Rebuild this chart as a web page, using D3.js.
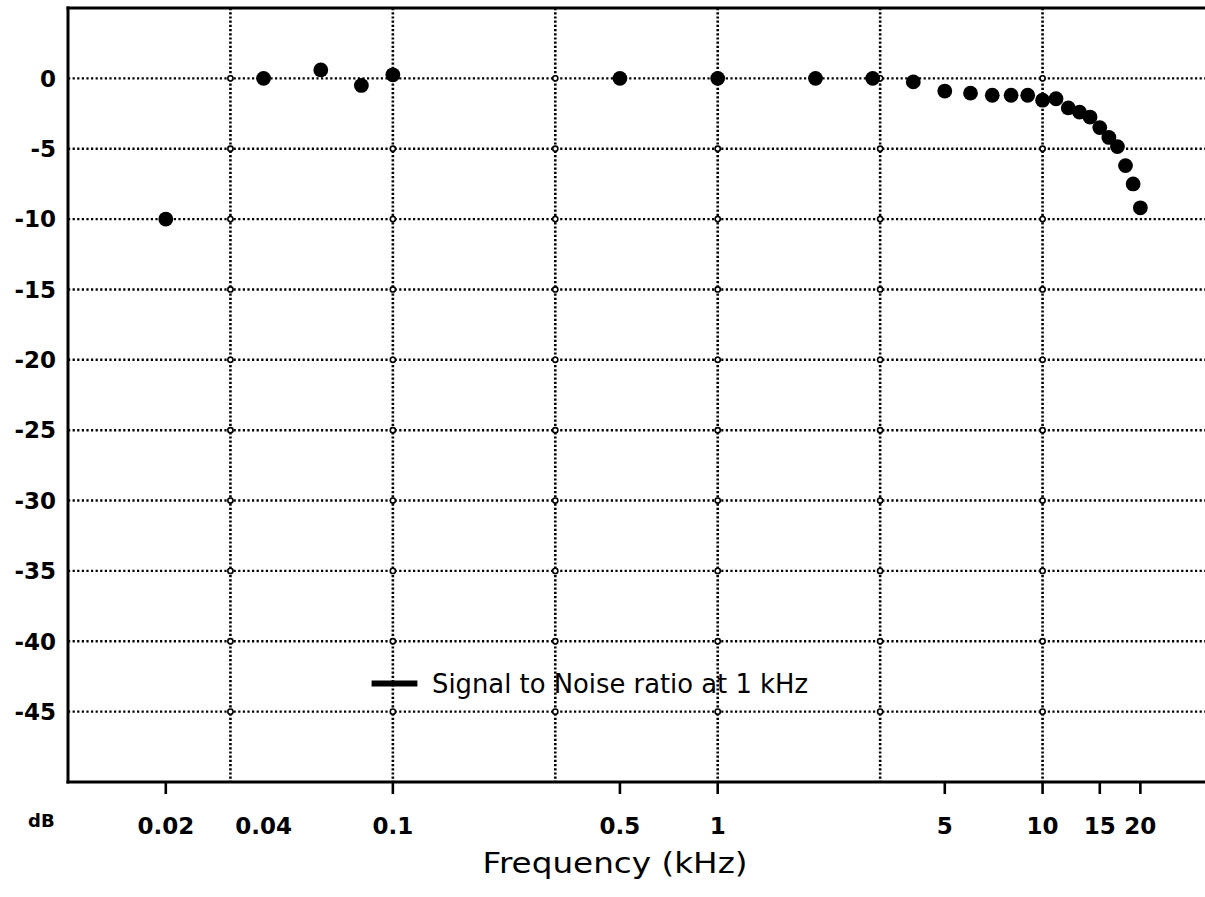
<!DOCTYPE html>
<html>
<head>
<meta charset="utf-8">
<script src="https://cdn.jsdelivr.net/npm/d3@7"></script>
<style>
  html, body { margin: 0; padding: 0; background: #fff; }
  svg { display: block; }
</style>
</head>
<body>
<svg id="chart" width="1205" height="897"></svg>
<script>
// Frequency response: measured level (dB) versus frequency (kHz)
const freqKHz = [0.02, 0.04, 0.06, 0.08, 0.1, 0.5, 1, 2, 3, 4, 5, 6, 7, 8, 9,
                 10, 11, 12, 13, 14, 15, 16, 17, 18, 19, 20];
const levelDb = [-10, 0, 0.6, -0.5, 0.25, 0, 0, 0, 0, -0.25, -0.9, -1.05, -1.2, -1.2, -1.2,
                 -1.55, -1.45, -2.1, -2.4, -2.75, -3.5, -4.2, -4.85, -6.2, -7.5, -9.2];

// Axis annotations
const xTickMarks = [0.02, 0.1, 0.5, 1, 5, 10, 15, 20];
const xTickLabels = ["0.02", "0.04", "0.1", "0.5", "1", "5", "10", "15", "20"];
const xGrid = [Math.pow(10, -1.5), 0.1, Math.pow(10, -0.5), 1, Math.pow(10, 0.5), 10];
const yTicks = [0, -5, -10, -15, -20, -25, -30, -35, -40, -45];
const legendLabel = "Signal to Noise ratio at 1 kHz";
const legendLevel = -43; // legend row sits between the -40 and -45 lines
const legendFreq = [0.086, 0.119];

const svg = d3.select("#chart");
const plotLeft = 68, plotRight = 1205, plotTop = 8, plotBottom = 782;

const x = d3.scaleLog().domain([0.01, Math.pow(10, 1.5)]).range([plotLeft, plotRight]);
const y = d3.scaleLinear().domain([5, -50]).range([plotTop, plotBottom]);

const sansBold = "'DejaVu Sans', Verdana, sans-serif";

// dotted grid
const grid = svg.append("g");
grid.selectAll("line.h").data(yTicks).join("line")
  .attr("class", "h")
  .attr("x1", plotLeft).attr("x2", plotRight)
  .attr("y1", d => y(d)).attr("y2", d => y(d))
  .attr("stroke", "#000").attr("stroke-width", 2.4)
  .attr("stroke-dasharray", "2.2,2.4");
grid.selectAll("line.v").data(xGrid).join("line")
  .attr("class", "v")
  .attr("x1", d => x(d)).attr("x2", d => x(d))
  .attr("y1", plotTop).attr("y2", plotBottom)
  .attr("stroke", "#000").attr("stroke-width", 2.6)
  .attr("stroke-dasharray", "2.2,2");

// small open circles where grid lines cross
const crossings = [];
xGrid.forEach(fx => yTicks.forEach(fy => crossings.push([fx, fy])));
grid.selectAll("circle").data(crossings).join("circle")
  .attr("cx", d => x(d[0])).attr("cy", d => y(d[1])).attr("r", 2.6)
  .attr("fill", "#fff").attr("stroke", "#000").attr("stroke-width", 1.6);

// frame: left axis, top rule, bottom axis
const frame = svg.append("g").attr("stroke", "#000").attr("stroke-width", 3).attr("fill", "none");
frame.append("line").attr("x1", plotLeft).attr("x2", plotLeft).attr("y1", plotTop - 1.5).attr("y2", plotBottom + 1.5);
frame.append("line").attr("x1", plotLeft - 1.5).attr("x2", plotRight).attr("y1", plotTop).attr("y2", plotTop);
frame.append("line").attr("x1", plotLeft - 1.5).attr("x2", plotRight).attr("y1", plotBottom).attr("y2", plotBottom);

// x tick marks
svg.append("g").selectAll("line").data(xTickMarks).join("line")
  .attr("x1", d => x(d)).attr("x2", d => x(d))
  .attr("y1", plotBottom).attr("y2", plotBottom + 12)
  .attr("stroke", "#000").attr("stroke-width", 2.6);

// x tick labels
svg.append("g").selectAll("text").data(xTickLabels).join("text")
  .attr("x", d => x(+d)).attr("y", 834)
  .attr("text-anchor", "middle")
  .attr("font-family", sansBold).attr("font-weight", "bold").attr("font-size", 23)
  .text(d => d);

// y tick labels
svg.append("g").selectAll("text").data(yTicks).join("text")
  .attr("x", 56).attr("y", d => y(d)).attr("dy", "0.36em")
  .attr("text-anchor", "end")
  .attr("font-family", sansBold).attr("font-weight", "bold").attr("font-size", 23)
  .text(d => d);

// unit label
svg.append("text").attr("x", 28).attr("y", 827)
  .attr("font-family", sansBold).attr("font-weight", "bold").attr("font-size", 18)
  .text("dB");

// axis title
svg.append("text").attr("x", 615).attr("y", 873)
  .attr("text-anchor", "middle")
  .attr("font-family", "'DejaVu Sans', sans-serif").attr("font-size", 28)
  .attr("textLength", 265).attr("lengthAdjust", "spacingAndGlyphs")
  .text("Frequency (kHz)");

// legend
svg.append("line")
  .attr("x1", x(legendFreq[0])).attr("x2", x(legendFreq[1]))
  .attr("y1", y(legendLevel)).attr("y2", y(legendLevel))
  .attr("stroke", "#000").attr("stroke-width", 6);
svg.append("text")
  .attr("x", 432).attr("y", y(legendLevel)).attr("dy", "0.36em")
  .attr("font-family", "'DejaVu Sans', sans-serif").attr("font-size", 26)
  .attr("textLength", 376).attr("lengthAdjust", "spacingAndGlyphs")
  .text(legendLabel);

// measured points
svg.append("g").selectAll("circle").data(freqKHz.map((f, i) => [f, levelDb[i]])).join("circle")
  .attr("cx", d => x(d[0])).attr("cy", d => y(d[1])).attr("r", 7.4)
  .attr("fill", "#000");
</script>
</body>
</html>
